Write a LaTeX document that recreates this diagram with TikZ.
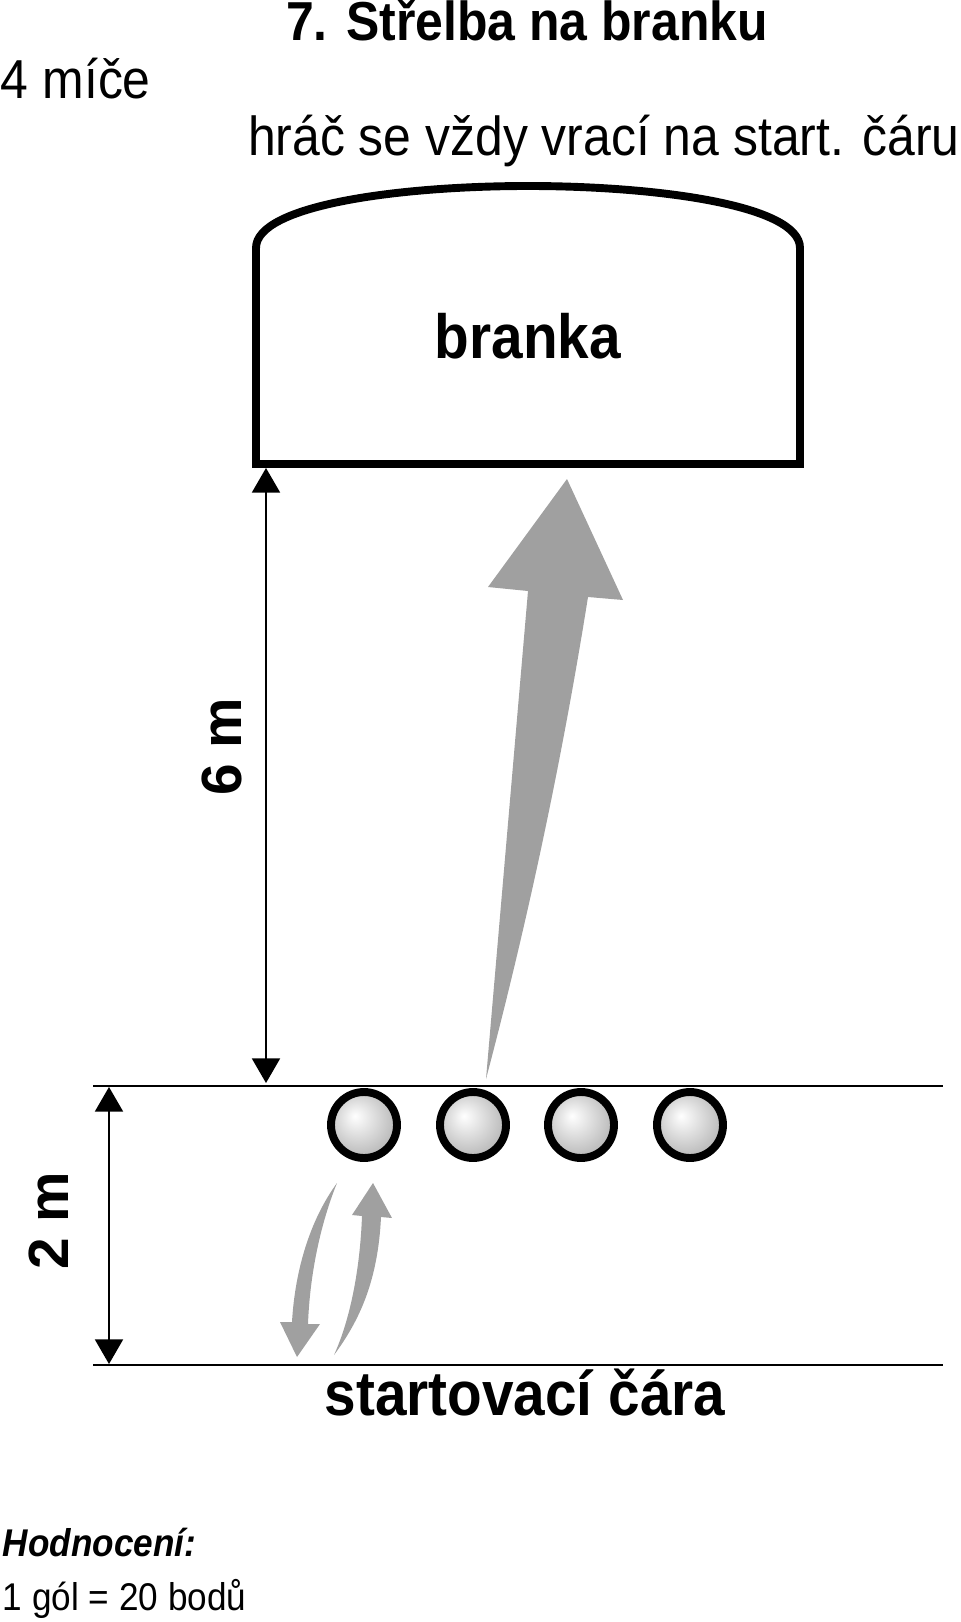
\documentclass[tikz,border=0pt]{standalone}
\usepackage{fontspec}
\usepackage{graphicx}
\setmainfont{Liberation Sans}
\usetikzlibrary{arrows.meta}
\definecolor{arrowgray}{RGB}{160,160,160}
\pgfdeclareradialshading{ballshine}{\pgfpoint{-7bp}{7bp}}{%
  color(0bp)=(white); color(20bp)=(gray!40); color(25bp)=(gray!50); color(50bp)=(gray!50)}
\newcommand{\tall}[1]{\scalebox{1}[1.1]{#1}}

\begin{document}
\begin{tikzpicture}[
  x=0.02cm, y=-0.02cm,
  every node/.style={inner sep=0pt, outer sep=0pt},
  bigtext/.style={font=\fontsize{28.4}{34}\selectfont},
  headtext/.style={font=\fontsize{28.4}{34}\selectfont\bfseries},
  labeltext/.style={font=\fontsize{32.3}{38}\selectfont\bfseries},
  smalltext/.style={font=\fontsize{20}{24}\selectfont},
  ball/.style={circle, draw=black, line width=4.5pt, minimum size=1.32cm,
    shading=ballshine},
  dimline/.style={line width=0.8pt,
    {Triangle[width=16pt,length=14pt]}-{Triangle[width=16pt,length=14pt]}},
  fieldline/.style={line width=1.1pt},
  shot/.style={fill=arrowgray}
]
\useasboundingbox (0,0) rectangle (960,1622);

% texts on top:
\node[headtext, anchor=base] (title) at (527,41) {\tall{7. Střelba na branku}};
\node[bigtext, anchor=base west] (balls) at (1,99) {\tall{4 míče}};
\node[bigtext, anchor=base west] (rule) at (248,156) {\tall{hráč se vždy vrací na start. čáru}};

% goal:
\draw [line width=4.5pt, line join=miter] (256,464) -- (256,248)
  .. controls (256,205) and (400,186) .. (528,186)
  .. controls (656,186) and (800,205) .. (800,248) -- (800,464) -- cycle;
\node[labeltext, anchor=base] (goal) at (528,358) {\tall{branka}};

% lines of the field:
\coordinate (ballL) at (93,1086);
\coordinate (ballR) at (943,1086);
\coordinate (startL) at (93,1365);
\coordinate (startR) at (943,1365);
\draw [fieldline] (ballL) -- (ballR);
\draw [fieldline] (startL) -- (startR);
\node[labeltext, anchor=base] (start) at (525,1415) {\tall{startovací čára}};

% distances:
\coordinate (d6top) at (266,468);
\coordinate (d6bot) at (266,1083);
\draw [dimline] (d6top) -- (d6bot);
\node[labeltext, rotate=90] (six) at (222,747) {6 m};
\coordinate (d2top) at (109,1087);
\coordinate (d2bot) at (109,1364);
\draw [dimline] (d2top) -- (d2bot);
\node[labeltext, rotate=90] (two) at (49,1221) {2 m};

% the balls
\foreach \bx [count=\i] in {364,473,581,690} {
  \node[ball] (b\i) at (\bx,1125) {};
}

% shot on goal
\fill [shot] (486,1079) -- (528,591) -- (488,587) -- (567,479) -- (623,600) -- (588,597)
  .. controls (562,760) and (528,920) .. (486,1079) -- cycle;

% back to the line and up again
\fill [shot] (337,1183) .. controls (310,1220) and (295,1270) .. (292,1322)
  -- (280,1322) -- (297,1357) -- (320,1324) -- (308,1324)
  .. controls (310,1270) and (322,1220) .. (337,1183) -- cycle;
\fill [shot] (334,1355) .. controls (350,1320) and (360,1270) .. (362,1216)
  -- (352,1215) -- (373,1183) -- (392,1218) -- (381,1217)
  .. controls (378,1280) and (360,1320) .. (334,1355) -- cycle;

% scoring:
\node[smalltext, font=\fontsize{20}{24}\selectfont\bfseries\itshape, anchor=base west] (score) at (3,1556) {\tall{Hodnocení:}};
\node[smalltext, anchor=base west] (points) at (3,1610) {\tall{1 gól = 20 bodů}};

\end{tikzpicture}
\end{document}
